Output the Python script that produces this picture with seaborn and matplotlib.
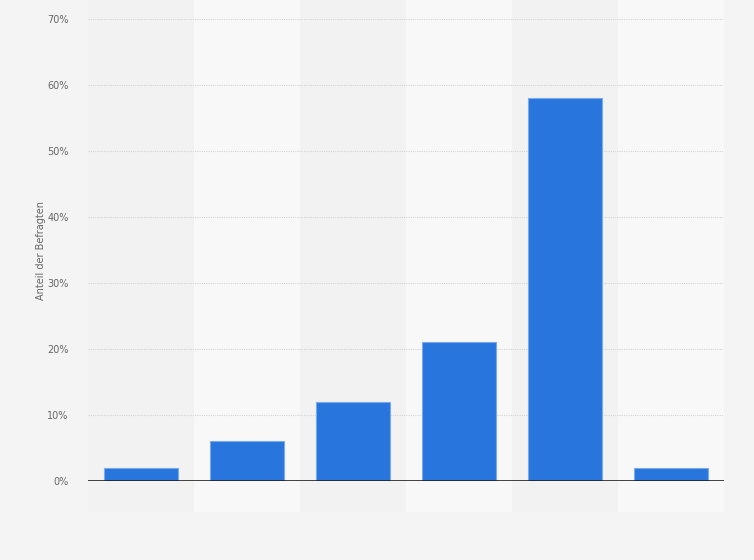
import numpy as np
import pandas as pd
import matplotlib
matplotlib.use("Agg")
import matplotlib.pyplot as plt
import matplotlib.transforms as mtransforms
from matplotlib.patches import Rectangle
import seaborn as sns

# values
categories = ["A", "B", "C", "D", "E", "F"]
shares = [2, 6, 12, 21, 58, 2]
yticks = [0, 10, 20, 30, 40, 50, 60, 70]

df = pd.DataFrame({"cat": categories, "share": shares})

sns.set_style("white")
plt.rcParams["font.family"] = ["DejaVu Sans"]

fig = plt.figure(figsize=(7.54, 5.6), dpi=100)
fig.patch.set_facecolor("#f4f4f4")
ax = fig.add_axes([88 / 754, 1 - 481 / 560, (724 - 88) / 754, (481 - 19) / 560])
ax.set_facecolor("none")

# alternating column bands, reaching past the plot area
trans = mtransforms.blended_transform_factory(ax.transData, ax.transAxes)
for i in range(len(categories)):
    col = "#f8f8f8" if i % 2 == 1 else "#f2f2f2"
    ax.add_patch(Rectangle((i - 0.5, -0.067), 1, 1.11, transform=trans,
                           facecolor=col, edgecolor="none", clip_on=False, zorder=0))

sns.barplot(data=df, x="cat", y="share", color="#2876dd", saturation=1,
            width=0.69, edgecolor="#7aaaee", linewidth=0.8, ax=ax, zorder=3)

ax.set_xlim(-0.5, len(categories) - 0.5)
ax.set_ylim(0, 70)
ax.set_yticks(yticks)
ax.set_yticklabels([f"{t}%" for t in yticks], fontsize=7, color="#666666")
ax.set_xticks([])
ax.set_xlabel("")
ax.set_ylabel("Anteil der Befragten", fontsize=7, color="#666666")
ax.yaxis.set_label_coords(-0.066, 0.5)
ax.tick_params(axis="y", length=0, pad=14)

for t in yticks[1:]:
    ax.axhline(t, color="#d4d4d4", linestyle=(0, (1, 1)), linewidth=0.8, zorder=1)
ax.axhline(0, color="#222222", linewidth=1.2, zorder=4)

for s in ax.spines.values():
    s.set_visible(False)

fig.savefig("out.png", dpi=100, facecolor=fig.get_facecolor())
